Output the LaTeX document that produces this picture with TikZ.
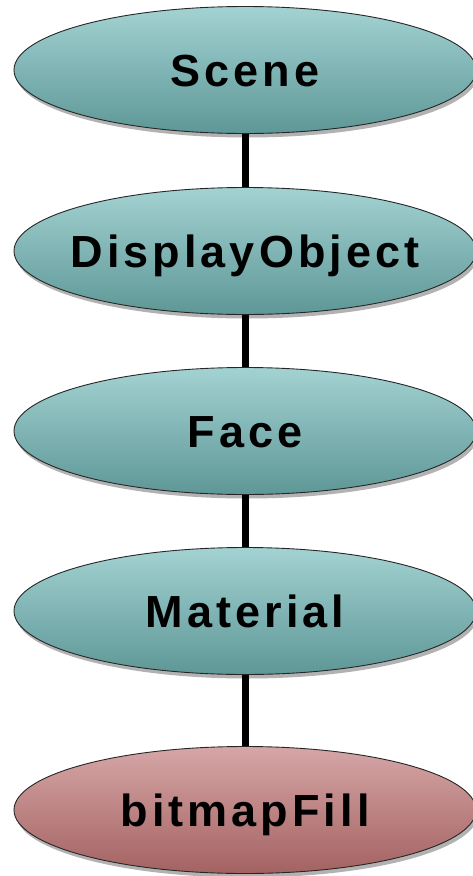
\documentclass[tikz,border=0pt]{standalone}
\usepackage{fontspec}
\setmainfont{Liberation Sans}[LetterSpace=9]
\usetikzlibrary{shapes.geometric,shadows}
\definecolor{tealL}{HTML}{A3D2D2}
\definecolor{tealD}{HTML}{5E9797}
\definecolor{redL}{HTML}{D6A6A6}
\definecolor{redD}{HTML}{A46262}
\newcommand\ovaltext[1]{\makebox[0pt][c]{#1}}
\tikzset{
  oval/.style={ellipse, draw=black!85, line width=0.9pt, minimum width=462pt, minimum height=127pt,
    inner sep=0pt, font=\fontsize{45}{45}\selectfont\bfseries, text height=32pt, text depth=0pt,
    shading=axis, shading angle=35,
    drop shadow={shadow xshift=2pt, shadow yshift=-4pt, opacity=0.3, fill=black}},
  tealoval/.style={oval, top color=tealL, bottom color=tealD},
  redoval/.style={oval, top color=redL, bottom color=redD},
  link/.style={line width=7pt, black}
}
\begin{document}
\begin{tikzpicture}[x=1pt,y=-1pt]
\useasboundingbox (0,0) rectangle (473,876);
\node[tealoval] (scene) at (245,70) {\ovaltext{Scene}};
\node[tealoval] (disp) at (245,251) {\ovaltext{DisplayObject}};
\node[tealoval] (face) at (245,431) {\ovaltext{Face}};
\node[tealoval] (mat) at (245,611) {\ovaltext{Material}};
\node[redoval] (bmp) at (245,810) {\ovaltext{bitmapFill}};
\begin{scope}[on background layer/.try]
\end{scope}
\draw[link] (scene.south) -- (disp.north);
\draw[link] (disp.south) -- (face.north);
\draw[link] (face.south) -- (mat.north);
\draw[link] (mat.south) -- (bmp.north);
\end{tikzpicture}
\end{document}
